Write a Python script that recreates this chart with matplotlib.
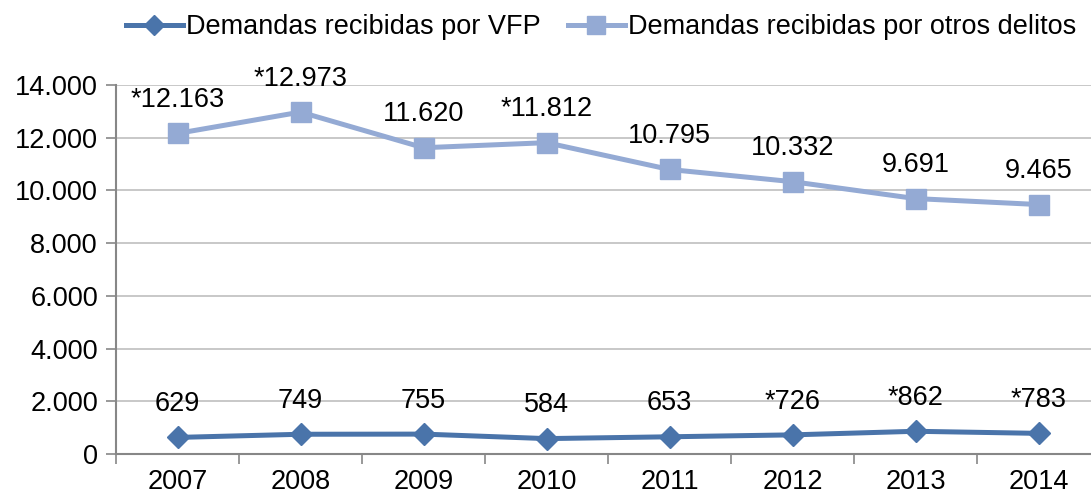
import numpy as np
import matplotlib.pyplot as plt
from matplotlib.ticker import FuncFormatter

plt.rcParams['font.family'] = ['Liberation Sans', 'DejaVu Sans']

years = ['2007', '2008', '2009', '2010', '2011', '2012', '2013', '2014']
vfp = [629, 749, 755, 584, 653, 726, 862, 783]
otros = [12163, 12973, 11620, 11812, 10795, 10332, 9691, 9465]
vfp_labels = ['629', '749', '755', '584', '653', '*726', '*862', '*783']
otros_labels = ['*12.163', '*12.973', '11.620', '*11.812', '10.795', '10.332', '9.691', '9.465']

c_vfp = '#4a74aa'
c_otros = '#94aad4'
grey = '#878787'
fs = 19.5

fig = plt.figure(figsize=(10.91, 4.95), dpi=100)
ax = fig.add_axes([116 / 1091, (495 - 454) / 495, 984 / 1091, (454 - 85) / 495])

x = np.arange(len(years))
ax.plot(x, vfp, color=c_vfp, lw=3.6, marker='D', ms=11, mec=c_vfp, mfc=c_vfp,
        label='Demandas recibidas por VFP', zorder=3)
ax.plot(x, otros, color=c_otros, lw=3.6, marker='s', ms=14, mec=c_otros, mfc=c_otros,
        label='Demandas recibidas por otros delitos', zorder=3)

for xi, v, t in zip(x, vfp, vfp_labels):
    ax.annotate(t, (xi, v), xytext=(0, 24), textcoords='offset points',
                ha='center', va='center', fontsize=fs)
for xi, v, t in zip(x, otros, otros_labels):
    ax.annotate(t, (xi, v), xytext=(0, 24), textcoords='offset points',
                ha='center', va='center', fontsize=fs)

ax.set_xlim(-0.5, 7.5)
ax.set_ylim(0, 14000)
ax.set_yticks(range(0, 14001, 2000))
ax.yaxis.set_major_formatter(FuncFormatter(lambda v, p: f'{int(v):,}'.replace(',', '.')))
ax.set_xticks(x)
ax.set_xticklabels(years)
ax.set_xticks(np.arange(-0.5, 8, 1), minor=True)
ax.tick_params(axis='x', which='major', length=0, labelsize=fs, pad=11)
ax.tick_params(axis='x', which='minor', length=7, width=1.2, color=grey)
ax.tick_params(axis='y', length=7, width=1.2, color=grey, labelsize=fs, pad=6)

ax.grid(axis='y', color='#bfbfbf', lw=1.2)
ax.set_axisbelow(True)
for s in ['top', 'right']:
    ax.spines[s].set_visible(False)
for s in ['left', 'bottom']:
    ax.spines[s].set_color(grey)
    ax.spines[s].set_linewidth(1.5)

fig.legend(loc='center', bbox_to_anchor=(601 / 1091, 1 - 27 / 495), ncol=2, frameon=False,
           fontsize=fs, handlelength=2.1, handletextpad=0.12, columnspacing=1.0,
           markerscale=0.9)

fig.savefig('out.png', dpi=100)
